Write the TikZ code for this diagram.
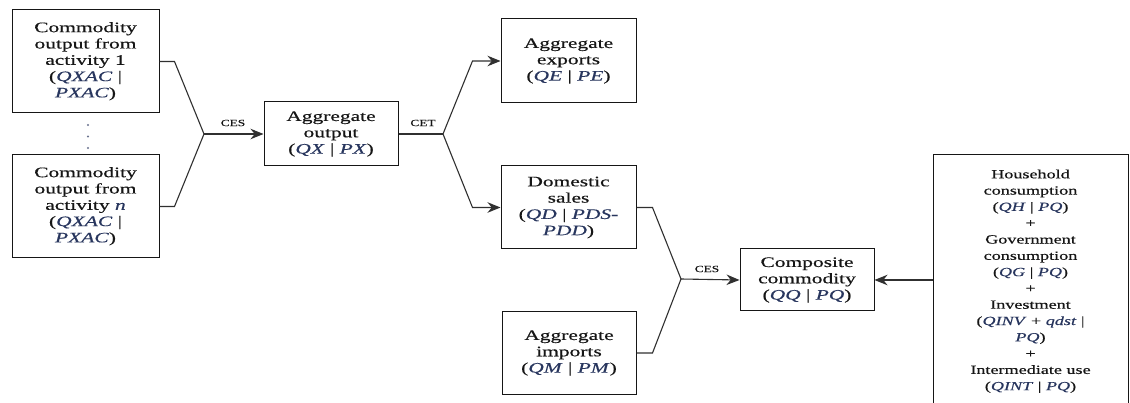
\documentclass[tikz,border=0pt]{standalone}
\usepackage{graphicx}
\usepackage{fontspec}
\setmainfont{Liberation Serif}[FakeBold=0.35]
\usetikzlibrary{arrows.meta}

\definecolor{ink}{HTML}{161616}
\definecolor{varink}{HTML}{28365E}
\definecolor{wire}{HTML}{303030}

% italic model variable names
\newcommand{\mvar}[1]{\textcolor{varink}{\textit{#1}}}
% wide, centred multi-line box text
\newcommand{\boxtext}[1]{\scalebox{1.48}[1]{\fontsize{14.5}{16.3}\selectfont\begin{tabular}{@{}c@{}}#1\end{tabular}}}
\newcommand{\usetext}[1]{\scalebox{1.45}[1]{\fontsize{12.5}{16.3}\selectfont\begin{tabular}{@{}c@{}}#1\end{tabular}}}
\newcommand{\fnlabel}[1]{\scalebox{1.4}[1]{\fontsize{9.5}{11}\selectfont #1}}

\tikzset{
  block/.style={draw=ink, line width=1pt, fill=white, inner sep=0pt, text=ink},
  wire/.style={draw=wire, line width=1.1pt},
  arr/.style={wire, -{Stealth[length=13pt, width=10.5pt]}},
  fnname/.style={inner sep=0pt, text=ink},
}

\begin{document}
\begin{tikzpicture}[x=1pt, y=-1pt]
  \fill[white] (0,0) rectangle (1130,403);
  \useasboundingbox (0,0) rectangle (1130,403);

  % activity outputs
  \node[block, minimum width=147pt, minimum height=103pt] (act1) at (85.5,61.5)
    {\boxtext{Commodity\\output from\\activity 1\\(\mvar{QXAC} |\\\mvar{PXAC})}};
  \node[block, minimum width=147pt, minimum height=103pt] (actn) at (85.5,206.5)
    {\boxtext{Commodity\\output from\\activity \mvar{n}\\(\mvar{QXAC} |\\\mvar{PXAC})}};
  \foreach \yy in {125,136.5,148}
    \fill[varink!70] (88,\yy) circle (1.1pt);

  % aggregate output and its split
  \node[block, minimum width=134pt, minimum height=64pt] (agg) at (331,134)
    {\boxtext{Aggregate\\output\\(\mvar{QX} | \mvar{PX})}};
  \node[block, minimum width=135pt, minimum height=84pt] (exp) at (568.5,61)
    {\boxtext{Aggregate\\exports\\(\mvar{QE} | \mvar{PE})}};
  \node[block, minimum width=135pt, minimum height=83pt] (dom) at (568.5,207.5)
    {\boxtext{Domestic\\sales\\(\mvar{QD} | \mvar{PDS-}\\\mvar{PDD})}};
  \node[block, minimum width=134pt, minimum height=82pt] (imp) at (569,353)
    {\boxtext{Aggregate\\imports\\(\mvar{QM} | \mvar{PM})}};

  % composite commodity and its uses
  \node[block, minimum width=134pt, minimum height=62pt] (comp) at (807,280)
    {\boxtext{Composite\\commodity\\(\mvar{QQ} | \mvar{PQ})}};
  \node[block, minimum width=195pt, minimum height=252pt] (uses) at (1030.5,281)
    {\usetext{Household\\consumption\\(\mvar{QH} | \mvar{PQ})\\+\\Government\\consumption\\(\mvar{QG} | \mvar{PQ})\\+\\Investment\\(\mvar{QINV} + \mvar{qdst} |\\\mvar{PQ})\\+\\Intermediate use\\(\mvar{QINT} | \mvar{PQ})}};

  % branching points
  \coordinate (j1) at (204,134);
  \coordinate (j2) at (443,134);
  \coordinate (j3) at (681,279);

  % CES aggregation of activity outputs
  \draw[wire] (act1.east) -- ++(15,0) -- (j1);
  \draw[wire] (actn.east) -- ++(15,0) -- (j1);
  \draw[arr] (j1) -- (agg.west);
  \node[fnname] (ces1) at (233,123) {\fnlabel{CES}};

  % CET transformation into exports and domestic sales
  \draw[wire] (agg.east) -- (j2);
  \draw[arr] (j2) -- ([xshift=-28pt]exp.west) -- (exp.west);
  \draw[arr] (j2) -- ([xshift=-28pt]dom.west) -- (dom.west);
  \node[fnname] (cet) at (423,123) {\fnlabel{CET}};

  % CES (Armington) aggregation of domestic sales and imports
  \draw[wire] (dom.east) -- ++(16,0) -- (j3);
  \draw[wire] (imp.east) -- ++(16,0) -- (j3);
  \draw[arr] (j3) -- (comp.west);
  \node[fnname] (ces2) at (707,269) {\fnlabel{CES}};

  % demand for the composite commodity
  \draw[arr] (comp.east -| uses.west) -- (comp.east);
\end{tikzpicture}
\end{document}
